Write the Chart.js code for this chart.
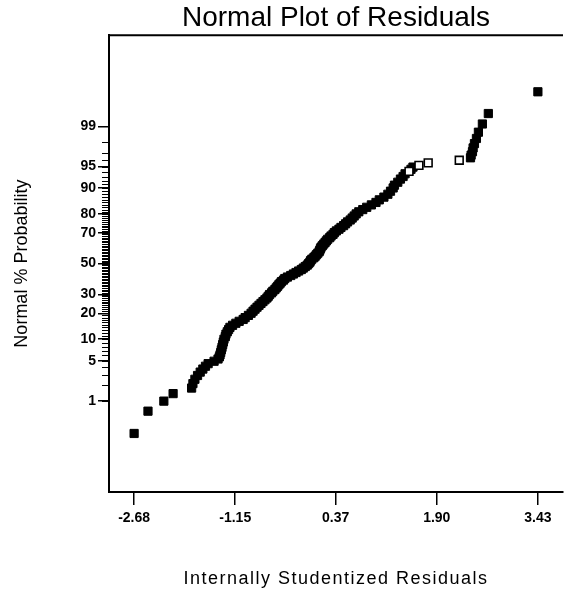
<!DOCTYPE html>
<html>
<head>
<meta charset="utf-8">
<script src="https://cdn.jsdelivr.net/npm/chart.js@4.4.0/dist/chart.umd.min.js"></script>
<style>
  html, body { margin: 0; padding: 0; background: #fff; }
  #wrap { width: 564px; height: 592px; }
</style>
</head>
<body>
<div id="wrap"><canvas id="chart" width="564" height="592"></canvas></div>
<script>
// residuals, normal % probability off the y axis
const filledResiduals = [
  -2.68, -2.47, -2.23, -2.09, -1.81, -1.79, -1.76, -1.72, -1.68, -1.64,
  -1.60, -1.56, -1.47, -1.41, -1.39, -1.38, -1.37, -1.36, -1.35, -1.34,
  -1.33, -1.32, -1.30, -1.29, -1.27, -1.25, -1.23, -1.19, -1.14, -1.09,
  -1.03, -1.00, -0.95, -0.91, -0.88, -0.85, -0.82, -0.79, -0.76, -0.73,
  -0.70, -0.67, -0.65, -0.63, -0.60, -0.58, -0.55, -0.53, -0.51, -0.49,
  -0.47, -0.45, -0.42, -0.40, -0.36, -0.31, -0.27, -0.23, -0.19, -0.15,
  -0.12, -0.09, -0.06, -0.04, -0.02, -0.01, 0.01, 0.04, 0.06, 0.08,
  0.10, 0.12, 0.13, 0.14, 0.15, 0.17, 0.19, 0.21, 0.23, 0.25,
  0.28, 0.30, 0.33, 0.35, 0.38, 0.42, 0.45, 0.49, 0.52, 0.55,
  0.59, 0.62, 0.65, 0.68, 0.72, 0.78, 0.84, 0.91, 0.98, 1.03,
  1.10, 1.16, 1.20, 1.24, 1.26, 1.31, 1.35, 1.39, 1.42, 1.51,
  1.54, 2.41, 2.42, 2.44, 2.45, 2.47, 2.50, 2.53, 2.59, 2.68,
  3.43
]
const filledPercents = [
  0.20, 0.62, 0.99, 1.38, 1.75, 2.1, 2.5, 2.9, 3.3, 3.7,
  4.1, 4.5, 4.9, 5.3, 5.7, 6.1, 6.6, 7.2, 7.8, 8.5,
  9.2, 10.0, 10.8, 11.6, 12.4, 13.2, 14.0, 14.8, 15.6, 16.4,
  17.2, 18, 19, 20, 21, 22, 23, 24, 25, 26,
  27, 28, 29, 30, 31, 32, 33, 34, 35, 36,
  37, 38, 39, 40, 41, 42, 43, 44, 45, 46,
  47, 48, 49, 50, 51, 52, 53, 54, 55, 56,
  57, 58, 59, 60, 61, 62, 63, 64, 65, 66,
  67, 68, 69, 70, 71, 72, 73, 74, 75, 76,
  77, 78, 79, 80, 81, 82, 83, 84, 85, 86,
  87, 88, 89, 90, 90.8, 91.6, 92.4, 93.0, 93.6, 94.5,
  94.9, 96.35, 96.7, 97.1, 97.5, 97.9, 98.3, 98.7, 99.1, 99.45,
  99.82
]
const openResiduals = [1.48, 1.63, 1.77, 2.24]
const openPercents = [94.1, 95.2, 95.6, 96.0]

const residualTicks = [-2.68, -1.15, 0.37, 1.90, 3.43]
const probTicks = [1, 5, 10, 20, 30, 50, 70, 80, 90, 95, 99]

const FONT = 'Liberation Sans, Arial, sans-serif'

// inverse normal cdf (Acklam), turns a probability into a normal score
function probit (p) {
  const a = [-39.69683028665376, 220.9460984245205, -275.9285104469687, 138.3577518672690, -30.66479806614716, 2.506628277459239]
  const b = [-54.47609879822406, 161.5858368580409, -155.6989798598866, 66.80131188771972, -13.28068155288572]
  const c = [-0.007784894002430293, -0.3223964580411365, -2.400758277161838, -2.549732539343734, 4.374664141464968, 2.938163982698783]
  const d = [0.007784695709041462, 0.3224671290700398, 2.445134137142996, 3.754408661907416]
  const lo = 0.02425
  let q, r
  if (p < lo) {
    q = Math.sqrt(-2 * Math.log(p))
    return (((((c[0]*q+c[1])*q+c[2])*q+c[3])*q+c[4])*q+c[5]) / ((((d[0]*q+d[1])*q+d[2])*q+d[3])*q+1)
  }
  if (p > 1 - lo) {
    q = Math.sqrt(-2 * Math.log(1 - p))
    return -(((((c[0]*q+c[1])*q+c[2])*q+c[3])*q+c[4])*q+c[5]) / ((((d[0]*q+d[1])*q+d[2])*q+d[3])*q+1)
  }
  q = p - 0.5
  r = q * q
  return (((((a[0]*r+a[1])*r+a[2])*r+a[3])*r+a[4])*r+a[5])*q / (((((b[0]*r+b[1])*r+b[2])*r+b[3])*r+b[4])*r+1)
}

function toPoints (xs, ps) {
  return xs.map((x, i) => ({ x: x, y: probit(ps[i] / 100) }))
}

// short ticks at every whole percent, plus the top frame line
const minorTicks = {
  id: 'minorTicks',
  afterDraw (chart) {
    const ctx = chart.ctx
    const y = chart.scales.y
    const area = chart.chartArea
    ctx.save()
    ctx.strokeStyle = '#000'
    ctx.lineWidth = 1
    for (let p = 1; p <= 99; p++) {
      const py = Math.round(y.getPixelForValue(probit(p / 100))) + 0.5
      ctx.beginPath()
      ctx.moveTo(area.left - 7, py)
      ctx.lineTo(area.left, py)
      ctx.stroke()
    }
    ctx.lineWidth = 2
    ctx.beginPath()
    ctx.moveTo(area.left - 1, area.top)
    ctx.lineTo(area.right, area.top)
    ctx.stroke()
    ctx.restore()
  }
}

// the x title is set a little spaced out in the original
function spacedTitle (s) {
  if (s._spaced) return
  s._spaced = true
  const draw = s.drawTitle
  s.drawTitle = function () {
    const ctx = this.ctx
    ctx.save()
    ctx.letterSpacing = '1.5px'
    draw.apply(this, arguments)
    ctx.restore()
  }
}

new Chart(document.getElementById('chart'), {
  type: 'scatter',
  data: {
    datasets: [
      {
        label: 'open',
        data: toPoints(openResiduals, openPercents),
        pointStyle: 'rect',
        pointRadius: 5.5,
        backgroundColor: '#fff',
        borderColor: '#000',
        borderWidth: 1.6
      },
      {
        label: 'residuals',
        data: toPoints(filledResiduals, filledPercents),
        pointStyle: 'rect',
        pointRadius: 5.8,
        backgroundColor: '#000',
        borderColor: '#000',
        borderWidth: 1
      }
    ]
  },
  options: {
    responsive: false,
    animation: false,
    layout: { autoPadding: false, padding: { left: 0, right: 1, top: 0, bottom: 0 } },
    plugins: {
      legend: { display: false },
      tooltip: { enabled: false },
      title: {
        display: true,
        fullSize: false,
        text: 'Normal Plot of Residuals',
        color: '#000',
        font: { family: FONT, size: 28, weight: 'normal', lineHeight: 1.15 },
        padding: { top: 2, bottom: 1 }
      }
    },
    scales: {
      x: {
        type: 'linear',
        min: -3.06,
        max: 3.81,
        afterBuildTicks: s => { s.ticks = residualTicks.map(v => ({ value: v })) },
        afterFit: s => {
          s.height = 100
          s.paddingLeft = 0
          s.paddingRight = 0
          spacedTitle(s)
        },
        ticks: {
          autoSkip: false,
          maxRotation: 0,
          padding: 5,
          color: '#000',
          font: { family: FONT, size: 14, weight: 'bold' },
          callback: v => v.toFixed(2)
        },
        grid: { drawOnChartArea: false, tickLength: 13, color: '#000', lineWidth: 1.5 },
        border: { color: '#000', width: 2 },
        title: {
          display: true,
          text: 'Internally Studentized Residuals',
          color: '#000',
          font: { family: FONT, size: 18, weight: 'normal' },
          padding: { top: 0, bottom: 2 }
        }
      },
      y: {
        type: 'linear',
        min: -3.87,
        max: 3.87,
        afterBuildTicks: s => { s.ticks = probTicks.map(p => ({ value: probit(p / 100) })) },
        afterFit: s => { s.width = 109 },
        ticks: {
          autoSkip: false,
          padding: 2,
          color: '#000',
          font: { family: FONT, size: 14, weight: 'bold' },
          callback: (v, i) => String(probTicks[i])
        },
        grid: { drawOnChartArea: false, tickLength: 11, color: '#000', lineWidth: 1.5 },
        border: { color: '#000', width: 2 },
        title: {
          display: true,
          text: 'Normal % Probability',
          color: '#000',
          font: { family: FONT, size: 18, weight: 'normal' },
          padding: { top: 11, bottom: 0 }
        }
      }
    }
  },
  plugins: [minorTicks]
})
</script>
</body>
</html>
